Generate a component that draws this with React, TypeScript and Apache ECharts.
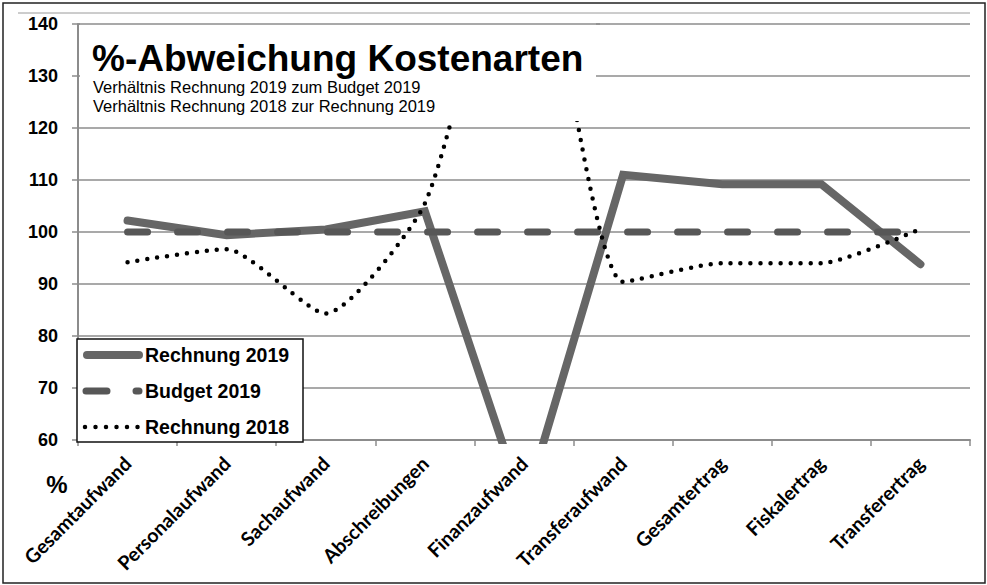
import React, { useEffect, useRef } from "react";
import * as echarts from "echarts";

const categories = [
  "Gesamtaufwand",
  "Personalaufwand",
  "Sachaufwand",
  "Abschreibungen",
  "Finanzaufwand",
  "Transferaufwand",
  "Gesamtertrag",
  "Fiskalertrag",
  "Transferertrag",
];
const seriesNames = ["Rechnung 2019", "Budget 2019", "Rechnung 2018"];
const rechnung2019 = [102.2, 99.4, 100.5, 104.0, 47, 111.0, 109.2, 109.2, 93.8];
const budget2019 = [100, 100, 100, 100, 100, 100, 100, 100, 100];
const rechnung2018 = [94.2, 96.7, 84.3, 105.5, 168, 90.4, 94.0, 94.0, 100.6];
const titleText = "%-Abweichung Kostenarten";
const subtitleLines = [
  "Verhältnis Rechnung 2019 zum Budget 2019",
  "Verhältnis Rechnung 2018 zur Rechnung 2019",
];
const unitLabel = "%";

const GRAY_AXIS = "#8c8c8c";

export default function App() {
  const ref = useRef<HTMLDivElement>(null);
  useEffect(() => {
    if (!ref.current) return;
    const chart = echarts.init(ref.current, null, { renderer: "svg" });
    const legendRows = [355, 391, 427];
    const option: any = {
      animation: false,
      backgroundColor: "#ffffff",
      grid: { left: 78, right: 17, top: 24, bottom: 145, containLabel: false },
      xAxis: {
        type: "category",
        data: categories,
        boundaryGap: true,
        axisLine: { lineStyle: { color: GRAY_AXIS, width: 2 } },
        axisTick: { show: true, length: 6, lineStyle: { color: GRAY_AXIS, width: 1.5 } },
        axisLabel: {
          interval: 0,
          rotate: 45,
          margin: 20,
          fontFamily: "Lato",
          fontWeight: "bold",
          fontSize: 19.5,
          color: "#000",
        },
      },
      yAxis: {
        type: "value",
        min: 60,
        max: 140,
        interval: 10,
        axisLine: { show: true, lineStyle: { color: GRAY_AXIS, width: 2 } },
        axisTick: { show: true, length: 6, lineStyle: { color: GRAY_AXIS, width: 1.5 } },
        splitLine: { lineStyle: { color: GRAY_AXIS, width: 1.5 } },
        axisLabel: {
          fontFamily: "Liberation Sans",
          fontWeight: "bold",
          fontSize: 18,
          color: "#000",
          margin: 20,
        },
      },
      series: [
        {
          name: seriesNames[0],
          type: "line",
          data: rechnung2019,
          symbol: "none",
          lineStyle: { color: "#666666", width: 8, cap: "round", join: "miter" },
          z: 2,
        },
        {
          name: seriesNames[1],
          type: "line",
          data: budget2019,
          symbol: "none",
          lineStyle: { color: "#575757", width: 7, type: [20, 30], cap: "round" },
          z: 3,
        },
        {
          name: seriesNames[2],
          type: "line",
          data: rechnung2018,
          symbol: "none",
          smooth: 0.2,
          lineStyle: { color: "#000", width: 4.5, type: [0, 10], cap: "round" },
          z: 4,
        },
      ],
      graphic: [
        {
          type: "rect",
          z: 100,
          shape: { x: 3, y: 3, width: 982, height: 580 },
          style: { fill: "none", stroke: "#222", lineWidth: 1.5 },
        },
        {
          type: "line",
          z: 100,
          shape: { x1: 18, y1: 13, x2: 970, y2: 13 },
          style: { stroke: "#9a9a9a", lineWidth: 1 },
        },
        {
          type: "rect",
          z: 100,
          shape: { x: 80, y: 19, width: 516, height: 102 },
          style: { fill: "#fff", stroke: "none" },
        },
        {
          type: "line",
          z: 101,
          shape: { x1: 79, y1: 24, x2: 600, y2: 24 },
          style: { stroke: GRAY_AXIS, lineWidth: 1.5 },
        },
        {
          type: "text",
          z: 101,
          x: 92,
          y: 58,
          style: {
            text: titleText,
            fontFamily: "Liberation Sans",
            fontWeight: "bold",
            fontSize: 37,
            fill: "#000",
            verticalAlign: "middle",
          },
        },
        ...subtitleLines.map((t, i) => ({
          type: "text",
          z: 101,
          x: 93,
          y: 87 + i * 19,
          style: {
            text: t,
            fontFamily: "Liberation Sans",
            fontSize: 16.5,
            fill: "#000",
            verticalAlign: "middle",
          },
        })),
        {
          type: "text",
          z: 101,
          x: 57,
          y: 484,
          style: {
            text: unitLabel,
            fontFamily: "Liberation Sans",
            fontWeight: "bold",
            fontSize: 24,
            fill: "#000",
            align: "center",
            verticalAlign: "middle",
          },
        },
        {
          type: "rect",
          z: 100,
          shape: { x: 77, y: 339, width: 226, height: 103 },
          style: { fill: "#fff", stroke: "#111", lineWidth: 1.5 },
        },
        {
          type: "line",
          z: 101,
          shape: { x1: 87, y1: legendRows[0], x2: 139, y2: legendRows[0] },
          style: { stroke: "#666666", lineWidth: 8, lineCap: "round" },
        },
        {
          type: "line",
          z: 101,
          shape: { x1: 86, y1: legendRows[1], x2: 139, y2: legendRows[1] },
          style: { stroke: "#575757", lineWidth: 7, lineCap: "round", lineDash: [21, 29] },
        },
        {
          type: "line",
          z: 101,
          shape: { x1: 85, y1: legendRows[2], x2: 140, y2: legendRows[2] },
          style: { stroke: "#000", lineWidth: 4.5, lineCap: "round", lineDash: [0, 10.5] },
        },
        ...seriesNames.map((n, i) => ({
          type: "text",
          z: 101,
          x: 145,
          y: legendRows[i],
          style: {
            text: n,
            fontFamily: "Liberation Sans",
            fontWeight: "bold",
            fontSize: 19.5,
            fill: "#000",
            verticalAlign: "middle",
          },
        })),
      ],
    };
    chart.setOption(option);
    return () => chart.dispose();
  }, []);
  return (
    <div
      ref={ref}
      style={{ position: "fixed", left: 0, top: 0, width: 987, height: 585 }}
    />
  );
}
